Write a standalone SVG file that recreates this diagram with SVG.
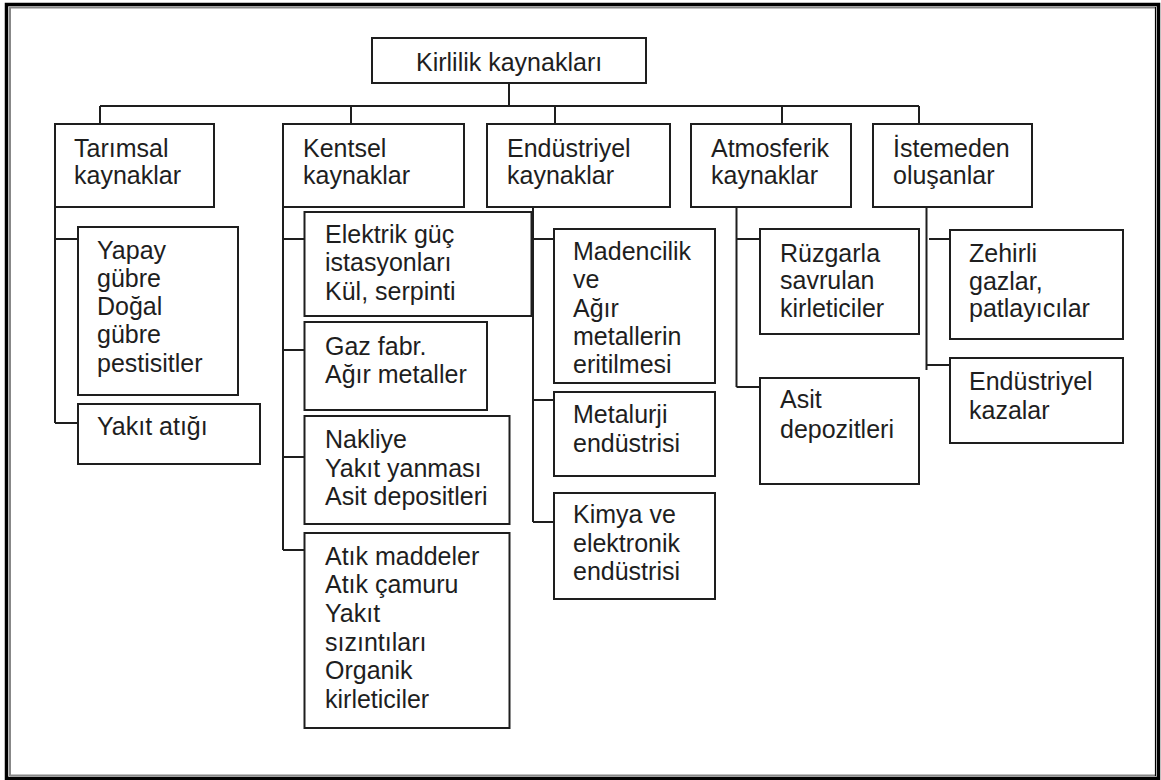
<svg xmlns="http://www.w3.org/2000/svg" width="1161" height="780" viewBox="0 0 1161 780">
<style>
.b{fill:#fff;stroke:#1e1e1e;stroke-width:2}
.c{fill:none;stroke:#1e1e1e;stroke-width:2}
text{font-family:"Liberation Sans",Arial,sans-serif;font-size:25px;fill:#1e1e1e}
</style>
<rect x="0" y="0" width="1161" height="780" fill="#fff"/>
<g id="frame">
<rect x="6.5" y="4.5" width="1152" height="774" fill="none" stroke="#000" stroke-width="3.5"/>
<line x1="10" y1="7" x2="10" y2="776" stroke="#888" stroke-width="2"/>
<line x1="9" y1="7.5" x2="1156" y2="7.5" stroke="#888" stroke-width="2"/>
<line x1="10" y1="775.5" x2="1156" y2="775.5" stroke="#888" stroke-width="2"/>
<line x1="1155.5" y1="7" x2="1155.5" y2="776" stroke="#000" stroke-width="1.2"/>
</g>
<g id="connectors" class="c">
<path d="M509 83V106M100 106H919M100 106V124M351 106V124M555 106V124M782 106V124M919 106V124"/>
<path d="M55 207V423M55 239H78M55 423H78"/>
<path d="M283 207V550M283 239H304.5M283 350H304.5M283 457H304.5M283 550H304.5"/>
<path d="M533 207V522M533 239H554M533 400H554M533 522H554"/>
<path d="M736.5 207V387M736.5 239H760M736.5 387H760"/>
<path d="M926.5 207V370M929 239H950M926.5 365H950"/>
</g>
<g id="n-root"><rect class="b" x="372" y="38" width="274" height="45"/><text x="416" y="71">Kirlilik kaynakları</text></g>
<g id="n-tarimsal"><rect class="b" x="55" y="124" width="159" height="83"/><text x="74" y="157">Tarımsal</text><text x="74" y="184">kaynaklar</text></g>
<g id="n-kentsel"><rect class="b" x="283" y="124" width="181" height="83"/><text x="303" y="157">Kentsel</text><text x="303" y="184">kaynaklar</text></g>
<g id="n-endustriyel"><rect class="b" x="487" y="124" width="183" height="83"/><text x="507" y="157">Endüstriyel</text><text x="507" y="184">kaynaklar</text></g>
<g id="n-atmosferik"><rect class="b" x="691" y="124" width="160" height="83"/><text x="711" y="157">Atmosferik</text><text x="711" y="184">kaynaklar</text></g>
<g id="n-istemeden"><rect class="b" x="873" y="124" width="159" height="83"/><text x="893" y="157">İstemeden</text><text x="893" y="184">oluşanlar</text></g>
<g id="n-yapay"><rect class="b" x="78" y="227" width="160" height="168"/><text x="97" y="259">Yapay</text><text x="97" y="287">gübre</text><text x="97" y="315">Doğal</text><text x="97" y="343">gübre</text><text x="97" y="372">pestisitler</text></g>
<g id="n-yakit"><rect class="b" x="78" y="404" width="182" height="60"/><text x="97" y="435">Yakıt atığı</text></g>
<g id="n-elektrik"><rect class="b" x="304.5" y="212" width="227" height="104"/><text x="325" y="243">Elektrik güç</text><text x="325" y="271">istasyonları</text><text x="325" y="300">Kül, serpinti</text></g>
<g id="n-gaz"><rect class="b" x="304.5" y="322" width="182.5" height="88"/><text x="325" y="355">Gaz fabr.</text><text x="325" y="383">Ağır metaller</text></g>
<g id="n-nakliye"><rect class="b" x="304.5" y="416" width="205" height="108"/><text x="325" y="448">Nakliye</text><text x="325" y="477">Yakıt yanması</text><text x="325" y="505">Asit depositleri</text></g>
<g id="n-atik"><rect class="b" x="304.5" y="533" width="205" height="195"/><text x="325" y="565">Atık maddeler</text><text x="325" y="593">Atık çamuru</text><text x="325" y="622">Yakıt</text><text x="325" y="651">sızıntıları</text><text x="325" y="679">Organik</text><text x="325" y="708">kirleticiler</text></g>
<g id="n-madencilik"><rect class="b" x="554" y="229" width="161" height="154"/><text x="573" y="260">Madencilik</text><text x="573" y="288">ve</text><text x="573" y="317">Ağır</text><text x="573" y="345">metallerin</text><text x="573" y="373">eritilmesi</text></g>
<g id="n-metalurji"><rect class="b" x="554" y="392" width="161" height="84"/><text x="573" y="423">Metalurji</text><text x="573" y="452">endüstrisi</text></g>
<g id="n-kimya"><rect class="b" x="554" y="493" width="161" height="106"/><text x="573" y="523">Kimya ve</text><text x="573" y="552">elektronik</text><text x="573" y="580">endüstrisi</text></g>
<g id="n-ruzgar"><rect class="b" x="760" y="229" width="159" height="105"/><text x="780" y="262">Rüzgarla</text><text x="780" y="289">savrulan</text><text x="780" y="317">kirleticiler</text></g>
<g id="n-asit"><rect class="b" x="760" y="378" width="159" height="106"/><text x="780" y="408">Asit</text><text x="780" y="438">depozitleri</text></g>
<g id="n-zehirli"><rect class="b" x="950" y="230" width="173" height="109"/><text x="969" y="262">Zehirli</text><text x="969" y="290">gazlar,</text><text x="969" y="317">patlayıcılar</text></g>
<g id="n-kazalar"><rect class="b" x="950" y="358" width="173" height="85"/><text x="969" y="390">Endüstriyel</text><text x="969" y="419">kazalar</text></g>
</svg>
